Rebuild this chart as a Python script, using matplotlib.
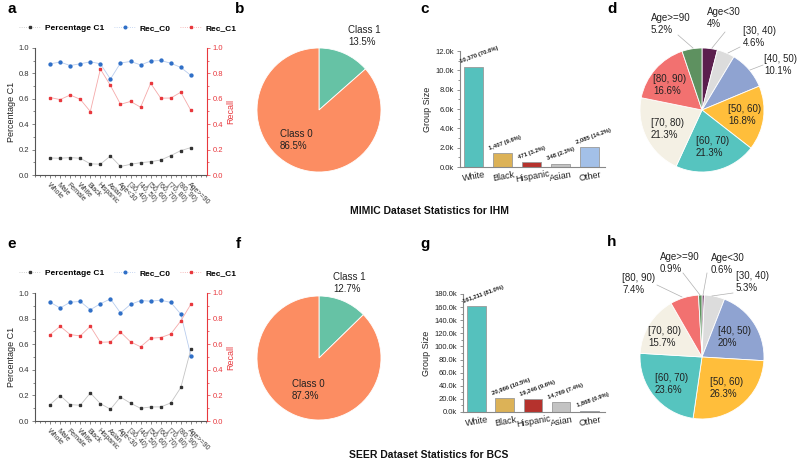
import matplotlib
matplotlib.use('Agg')
import matplotlib.pyplot as plt
import numpy as np
from matplotlib.ticker import MultipleLocator, FuncFormatter
from matplotlib.lines import Line2D

plt.rcParams['font.family'] = ['Liberation Sans', 'DejaVu Sans']

# ---- data ----
groups = ['Whole', 'Male', 'Female', 'White', 'Black', 'Hispanic', 'Asian', 'Age<30',
          '[30, 40)', '[40, 50)', '[50, 60)', '[60, 70)', '[70, 80)', '[80, 90)', 'Age>=90']

mimic_pct = [0.134, 0.132, 0.137, 0.132, 0.088, 0.085, 0.150, 0.067, 0.084, 0.097,
             0.105, 0.118, 0.153, 0.192, 0.216]
mimic_rec0 = [0.876, 0.889, 0.862, 0.876, 0.891, 0.876, 0.755, 0.882, 0.894, 0.867,
              0.897, 0.902, 0.880, 0.847, 0.784]
mimic_rec1 = [0.610, 0.594, 0.630, 0.596, 0.500, 0.834, 0.705, 0.557, 0.579, 0.534,
              0.722, 0.605, 0.606, 0.652, 0.508]

seer_pct = [0.128, 0.199, 0.128, 0.123, 0.219, 0.136, 0.092, 0.187, 0.139, 0.099,
            0.110, 0.110, 0.141, 0.262, 0.562]
seer_rec0 = [0.928, 0.883, 0.928, 0.934, 0.869, 0.916, 0.954, 0.844, 0.911, 0.941,
             0.936, 0.944, 0.926, 0.835, 0.508]
seer_rec1 = [0.675, 0.740, 0.675, 0.665, 0.740, 0.615, 0.618, 0.695, 0.618, 0.580,
             0.647, 0.652, 0.680, 0.782, 0.913]

class_names = ['Class 1', 'Class 0']
mimic_class = [13.5, 86.5]
seer_class = [12.7, 87.3]

races = ['White', 'Black', 'Hispanic', 'Asian', 'Other']
mimic_race = [10370, 1407, 471, 348, 2085]
mimic_race_pct = ['70.6', '9.6', '3.2', '2.3', '14.2']
seer_race = [161211, 20966, 19246, 14769, 1868]
seer_race_pct = ['81.0', '10.5', '9.6', '7.4', '0.9']

ages = ['Age<30', '[30, 40)', '[40, 50)', '[50, 60)', '[60, 70)', '[70, 80)', '[80, 90)', 'Age>=90']
mimic_age = [4, 4.6, 10.1, 16.8, 21.3, 21.3, 16.6, 5.2]
seer_age = [0.6, 5.3, 20, 26.3, 23.6, 15.7, 7.4, 0.9]

# ---- style ----
W, H = 800, 463
fig = plt.figure(figsize=(8, 4.63), dpi=100)

def box(l, t, r, b):
    return [l / W, 1 - b / H, (r - l) / W, (b - t) / H]

red = '#e8383d'
blue = '#2f6fc7'
dark = '#333333'
bar_colors = ['#55c1bd', '#dcb257', '#b5322d', '#c3c3c3', '#a3c0e8']
class_colors = ['#66c2a5', '#fc8d62']
age_colors = ['#5b1f4e', '#dcdcdc', '#8fa3d1', '#ffbe3b', '#56c4bf', '#f4f0e4', '#f27170', '#5e9160']


def line_panel(l, t, r, b, pct, rec0, rec1, leg_y):
    ax = fig.add_axes(box(l, t, r, b))
    ax2 = ax.twinx()
    x = np.arange(len(groups))
    ms = 1.9
    ax.plot(x, pct, color='#c4c4c4', lw=0.6, marker='s', ms=ms, mfc=dark, mec=dark)
    ax2.plot(x, rec0, color='#b9cdee', lw=0.6, marker='o', ms=ms + 0.2, mfc=blue, mec=blue)
    ax2.plot(x, rec1, color='#f5a9a9', lw=0.6, marker='s', ms=ms, mfc=red, mec=red)
    for a in (ax, ax2):
        a.set_ylim(0, 1)
        a.set_xlim(-1.3, 15.6)
        a.yaxis.set_major_locator(MultipleLocator(0.2))
        a.yaxis.set_minor_locator(MultipleLocator(0.1))
        a.yaxis.set_major_formatter(FuncFormatter(lambda v, p: f'{v:.1f}'))
        a.spines['top'].set_visible(False)
    ax.spines['right'].set_visible(False)
    ax2.spines['left'].set_visible(False)
    ax2.spines['bottom'].set_visible(False)
    ax2.spines['right'].set_color(red)
    ax.spines['left'].set_color('#555555')
    ax.spines['bottom'].set_color('#555555')
    ax.set_xticks(x)
    ax.set_xticks(np.arange(-1.5, 15.6, 0.5), minor=True)
    ax.set_xticklabels(groups, rotation=-45, ha='left', rotation_mode='anchor', fontsize=5, color=dark)
    ax.tick_params(axis='x', which='major', length=2.5, width=0.5, colors='#555555', labelcolor=dark, pad=2)
    ax.tick_params(axis='x', which='minor', length=1.5, width=0.5, colors='#555555')
    ax.tick_params(axis='y', which='both', labelsize=5.5, width=0.5, colors='#555555', labelcolor=dark, pad=1.5)
    ax.tick_params(axis='y', which='major', length=2.5)
    ax.tick_params(axis='y', which='minor', length=1.5)
    ax2.tick_params(axis='y', which='both', labelsize=5.5, width=0.5, colors=red, pad=1.5)
    ax2.tick_params(axis='y', which='major', length=2.5)
    ax2.tick_params(axis='y', which='minor', length=1.5)
    ax.set_ylabel('Percentage C1', fontsize=6.5, color='#222222', labelpad=2)
    ax2.set_ylabel('Recall', fontsize=6.5, color=red, labelpad=2)
    handles = [
        Line2D([], [], color='#c4c4c4', lw=0.6, ls=':', marker='s', ms=ms, mfc=dark, mec=dark),
        Line2D([], [], color='#b9cdee', lw=0.6, ls=':', marker='o', ms=ms, mfc=blue, mec=blue),
        Line2D([], [], color='#f5a9a9', lw=0.6, ls=':', marker='s', ms=ms, mfc=red, mec=red),
    ]
    fig.legend(handles, ['Percentage C1', 'Rec_C0', 'Rec_C1'], loc='center', ncol=3,
               bbox_to_anchor=(128 / W, 1 - leg_y / H), frameon=False,
               prop={'size': 6, 'weight': 'bold'}, handlelength=2.6, columnspacing=1.1,
               handletextpad=0.5)


def bar_panel(l, t, r, b, vals, pct, ymax, step):
    ax = fig.add_axes(box(l, t, r, b))
    x = np.arange(len(races))
    ax.bar(x, vals, width=0.66, color=bar_colors, edgecolor='#9a9a9a', linewidth=0.6)
    for i, (v, p) in enumerate(zip(vals, pct)):
        ax.text(i - 0.42, v + ymax * 0.02, f'{v:,} ({p}%)', rotation=20, rotation_mode='anchor',
                ha='left', va='bottom', fontsize=4.2, fontweight='bold', color='#222222')
    ax.set_xlim(-0.47, 4.55)
    ax.set_ylim(0, ymax)
    ax.yaxis.set_major_locator(MultipleLocator(step))
    ax.yaxis.set_minor_locator(MultipleLocator(step / 2))
    ax.yaxis.set_major_formatter(FuncFormatter(lambda v, p: f'{v / 1000:.1f}k'))
    ax.set_xticks(x)
    ax.set_xticklabels(races, rotation=10, ha='center', rotation_mode='anchor', fontsize=6.5, color='#222222')
    ax.tick_params(axis='x', length=0, pad=4)
    ax.tick_params(axis='y', which='both', labelsize=5.5, width=0.5, colors='#666666', labelcolor='#222222', pad=1.5)
    ax.tick_params(axis='y', which='major', length=2.5)
    ax.tick_params(axis='y', which='minor', length=1.5)
    for s in ('top', 'right'):
        ax.spines[s].set_visible(False)
    ax.spines['left'].set_color('#888888')
    ax.spines['bottom'].set_color('#888888')
    ax.set_ylabel('Group Size', fontsize=6.5, color='#222222', labelpad=3)


def pie_panel(cx, cy, vals, colors, names, text_px, lines_px):
    half = 110
    u = 62.0
    ax = fig.add_axes(box(cx - half, cy - half, cx + half, cy + half))
    ax.pie(vals, colors=colors, startangle=90, counterclock=False, radius=1,
           wedgeprops=dict(edgecolor='white', linewidth=0.6))
    lim = half / u
    ax.set_xlim(-lim, lim)
    ax.set_ylim(-lim, lim)
    for (px_, py_), (p0, p1) in lines_px:
        ax.plot([(px_ - cx) / u, (p0 - cx) / u], [(cy - py_) / u, (cy - p1) / u],
                color='#b0b0b0', lw=0.5, clip_on=False)
    for name, v, (px_, py_) in zip(names, vals, text_px):
        ax.text((px_ - cx) / u, (cy - py_) / u, f'{name}\n{v:g}%', ha='left', va='center',
                fontsize=7, color='#222222', linespacing=1.15, clip_on=False)


# ---- panels ----
line_panel(35, 48, 207, 175, mimic_pct, mimic_rec0, mimic_rec1, 28)
line_panel(35, 293, 207, 421, seer_pct, seer_rec0, seer_rec1, 273)

pie_panel(319, 110, mimic_class, class_colors, class_names,
          [(348, 36), (280, 140)], [])
pie_panel(319, 358, seer_class, class_colors, class_names,
          [(333, 283), (292, 390)], [])

bar_panel(460, 51, 605, 167, mimic_race, mimic_race_pct, 12000, 2000)
bar_panel(463, 294, 605, 412, seer_race, seer_race_pct, 180000, 20000)

pie_panel(702, 110, mimic_age, age_colors, ages,
          [(707, 18), (743, 37), (764, 65), (728, 115), (696, 147), (651, 129), (653, 85), (651, 24)],
          [((725, 32), (712, 48)), ((740, 47), (728, 53)), ((763, 65), (750, 70)),
           ((678, 35), (693, 48))])
pie_panel(702, 357, seer_age, age_colors, ages,
          [(711, 264), (736, 282), (718, 337), (710, 388), (655, 384), (648, 337), (622, 284), (660, 263)],
          [((707, 273), (703, 295)), ((733, 293), (712, 296)), ((683, 273), (700, 295)),
           ((657, 285), (682, 297))])

# ---- titles and panel letters ----
fig.text(429 / W, 1 - 211 / H, 'MIMIC Dataset Statistics for IHM', ha='center', va='center',
         fontsize=7.5, fontweight='bold', color='#111111')
fig.text(429 / W, 1 - 455 / H, 'SEER Dataset Statistics for BCS', ha='center', va='center',
         fontsize=7.5, fontweight='bold', color='#111111')
for letter, x0, y0 in [('a', 12, 9), ('b', 240, 9), ('c', 425, 9), ('d', 612, 9),
                       ('e', 12, 244), ('f', 238, 244), ('g', 425, 244), ('h', 612, 242)]:
    fig.text(x0 / W, 1 - y0 / H, letter, ha='center', va='center', fontsize=11, fontweight='bold')

fig.savefig('out.png', dpi=100)
